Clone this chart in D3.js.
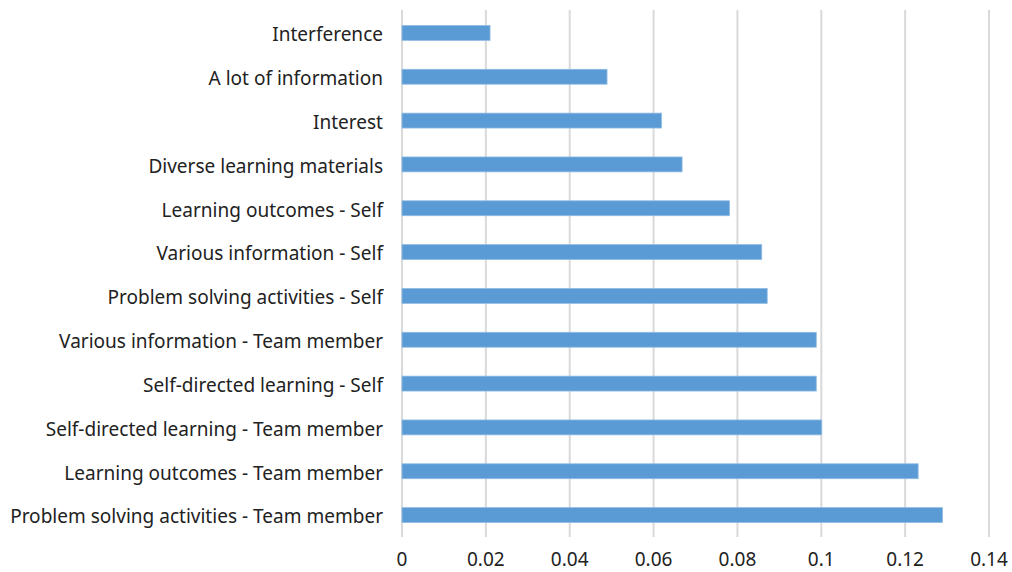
<!DOCTYPE html>
<html>
<head>
<meta charset="utf-8">
<script src="https://cdn.jsdelivr.net/npm/d3@7"></script>
<style>
  body { margin: 0; background: #fff; }
  svg text { font-family: "Noto Sans", sans-serif; fill: #222; }
</style>
</head>
<body>
<svg id="chart" width="1012" height="572"></svg>
<script>
var categories = [
    'Interference',
    'A lot of information',
    'Interest',
    'Diverse learning materials',
    'Learning outcomes - Self',
    'Various information - Self',
    'Problem solving activities - Self',
    'Various information - Team member',
    'Self-directed learning - Self',
    'Self-directed learning - Team member',
    'Learning outcomes - Team member',
    'Problem solving activities - Team member'
];
var values = [0.021, 0.0489, 0.0619, 0.0668, 0.0781, 0.0858, 0.0871, 0.0988, 0.0988, 0.1001, 0.1231, 0.1289];
var ticks = [0, 0.02, 0.04, 0.06, 0.08, 0.1, 0.12, 0.14];

(function()
{
    var svg = d3.select('#chart'),
        left = 402, right = 989, top = 11, bottom = 537,
        labelRight = 383, labelMaxWidth = 373;

    var x = d3.scaleLinear().domain([0, 0.14]).range([left, right]),
        y = d3.scaleBand().domain(categories).range([top, bottom]).paddingInner(0.66).paddingOuter(0.33);

    // grid
    svg.append('g').selectAll('line').data(ticks).enter().append('line')
        .attr('x1', function(d) { return x(d); })
        .attr('x2', function(d) { return x(d); })
        .attr('y1', top - 1)
        .attr('y2', bottom)
        .attr('stroke', '#d9d9d9')
        .attr('stroke-width', 2);

    // bars
    svg.append('g').selectAll('rect').data(values).enter().append('rect')
        .attr('x', x(0))
        .attr('y', function(d, i) { return y(categories[i]); })
        .attr('width', function(d) { return x(d) - x(0); })
        .attr('height', y.bandwidth())
        .attr('fill', '#5b9bd5')
        .attr('stroke', '#8fbbe3')
        .attr('stroke-width', 0.8);

    // category labels, squeezed a bit to get the narrow look
    var labelGroup = svg.append('g');
    var labels = labelGroup.selectAll('text').data(categories).enter().append('text')
        .attr('x', 0)
        .attr('y', function(d) { return y(d) + y.bandwidth() / 2; })
        .attr('dy', '0.42em')
        .attr('text-anchor', 'end')
        .style('font-size', '20px')
        .text(function(d) { return d; });

    var widest = 0;
    labels.each(function() { widest = Math.max(widest, this.getComputedTextLength()); });
    var k = Math.min(1, labelMaxWidth / widest);
    labelGroup.attr('transform', 'translate(' + labelRight + ',0) scale(' + k + ',1)');

    // tick labels
    svg.append('g').selectAll('text').data(ticks).enter().append('text')
        .attr('x', function(d) { return x(d); })
        .attr('y', 559)
        .attr('dy', '0.35em')
        .attr('text-anchor', 'middle')
        .style('font-size', '19px')
        .text(function(d) { return d3.format('~g')(d); });
})();
</script>
</body>
</html>
